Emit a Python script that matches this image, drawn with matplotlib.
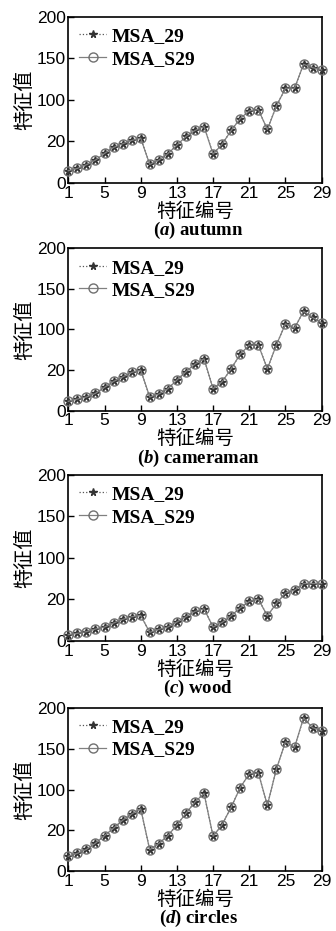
import matplotlib
matplotlib.use("Agg")
from matplotlib import pyplot as plt
import numpy as np

plt.rcParams['font.family'] = ['Liberation Sans', 'Noto Sans CJK SC', 'DejaVu Sans']
plt.rcParams['mathtext.fontset'] = 'custom'
plt.rcParams['mathtext.rm'] = 'Liberation Serif'
plt.rcParams['mathtext.bf'] = 'Liberation Serif:bold'
plt.rcParams['mathtext.bfit'] = 'Liberation Serif:italic:bold'
plt.rcParams['mathtext.it'] = 'Liberation Serif:italic'

x = np.arange(1, 30)
xticks = [1, 5, 9, 13, 17, 21, 25, 29]
yticks = [0, 50, 100, 150, 200]
ytick_labels = ["0", "20", "100", "150", "200"]

autumn = [14.8, 17.6, 22, 27.6, 35.6, 42.8, 47.2, 51.2, 54, 22.4, 27.6, 35.2, 45.6, 56, 63.2,
          68, 34.8, 46.8, 63.2, 77.6, 86.8, 88.4, 64.4, 92.8, 114, 114, 142.8, 138.8, 136]
cameraman = [11.5, 14.3, 16.8, 21.3, 28.7, 36, 41.4, 47.1, 50, 16.8, 20.5, 27, 37.7, 48, 57.4,
             63.9, 27, 35.7, 51.6, 69.7, 80.7, 81.1, 51.6, 81.1, 107, 101.6, 122.5, 114.8, 108.2]
wood = [7.6, 9.2, 11.2, 14.4, 16.8, 21.6, 26, 29.2, 30.8, 10.4, 14, 16.8, 22.8, 29.2, 35.6,
        38.8, 16.8, 22.4, 30.4, 40, 47.6, 50.4, 30.4, 45.2, 58, 61.2, 69.2, 69.2, 69.2]
circles = [18.4, 22, 26.8, 34.4, 43.6, 52.8, 62.4, 70, 76.4, 26.4, 34, 43.6, 56.8, 70.8, 84.8,
           95.2, 42.8, 57.2, 78.4, 102.4, 119.2, 120.4, 80.8, 125.2, 158.4, 151.6, 187.6, 175.6, 172]

panels = [("a", "autumn", autumn), ("b", "cameraman", cameraman),
          ("c", "wood", wood), ("d", "circles", circles)]
# axes boxes (left, bottom, width, height) in figure fractions
boxes = [(0.2033, 0.8034, 0.754, 0.1786), (0.2033, 0.5589, 0.754, 0.1744),
         (0.2033, 0.3115, 0.754, 0.1783), (0.2033, 0.0641, 0.754, 0.1757)]

fig = plt.figure(figsize=(3.36, 9.31), dpi=100)

for (letter, name, vals), box in zip(panels, boxes):
    ax = fig.add_axes(box)
    ax.plot(x, vals, linestyle=':', color='#555555', lw=0.9, marker='*', ms=5.5,
            mfc='#333333', mec='#333333', clip_on=False, label='MSA_29', zorder=3)
    ax.plot(x, vals, linestyle='-', color='#808080', lw=0.9, marker='o', ms=6.5,
            mfc='none', mec='#707070', mew=1.0, clip_on=False, label='MSA_S29', zorder=4)
    ax.set_xlim(1, 29)
    ax.set_ylim(0, 200)
    ax.set_xticks(xticks)
    ax.set_yticks(yticks)
    ax.set_yticklabels(ytick_labels)
    ax.tick_params(direction='in', length=4, width=1, labelsize=12.5, pad=2,
                   top=False, right=False)
    for s in ax.spines.values():
        s.set_linewidth(1.2)
    ax.set_ylabel("特征值", family=['Noto Sans CJK SC'], fontsize=14.5, labelpad=1)
    ax.set_xlabel("特征编号", family=['Noto Sans CJK SC'], fontsize=14, labelpad=0)
    ax.legend(loc='upper left', frameon=False, handlelength=1.4,
              prop={'family': 'Liberation Serif', 'weight': 'bold', 'size': 14},
              borderaxespad=0.2, borderpad=0.35, labelspacing=0.25, handletextpad=0.3)
    # caption below each panel
    bottom_px = box[1] * 931
    fig.text(198 / 336, (bottom_px - 52) / 931,
             r"$\mathbf{(}\mathbfit{" + letter + r"}\mathbf{)\ " + name + "}$",
             ha='center', va='baseline', fontsize=13.5)

fig.savefig("out.png", dpi=100)
